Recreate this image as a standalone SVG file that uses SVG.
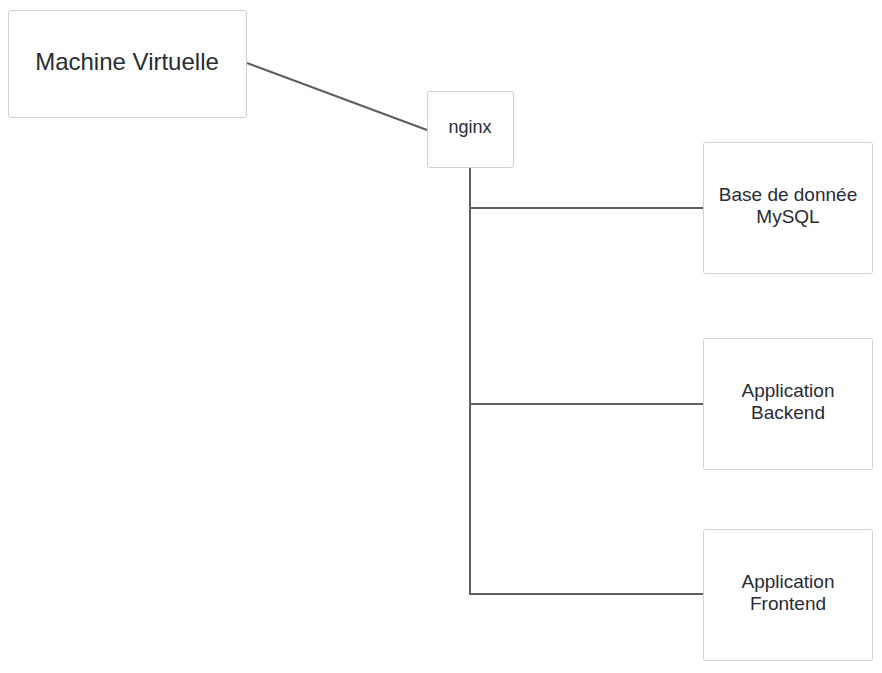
<svg xmlns="http://www.w3.org/2000/svg" width="882" height="673" viewBox="0 0 882 673">
<style>
.box{fill:#ffffff;stroke:#d0d0d0;stroke-width:1}
.t{font-family:"Liberation Sans",Arial,sans-serif;fill:#282c33;text-anchor:middle}
.c{stroke:#5e5e5e;stroke-width:2;fill:none}
</style>
<rect width="882" height="673" fill="#ffffff"/>
<g id="connectors">
<line class="c" x1="247" y1="63" x2="427" y2="130"/>
<polyline class="c" points="470,168 470,594 703,594"/>
<line class="c" x1="470" y1="208" x2="703" y2="208"/>
<line class="c" x1="470" y1="404" x2="703" y2="404"/>
</g>
<g id="machine-virtuelle">
<rect class="box" x="8.5" y="10.5" width="238" height="107" rx="2"/>
<text class="t" x="127" y="70" font-size="24">Machine Virtuelle</text>
</g>
<g id="nginx">
<rect class="box" x="427.5" y="91.5" width="86" height="76" rx="2"/>
<text class="t" x="470" y="133" font-size="18">nginx</text>
</g>
<g id="mysql">
<rect class="box" x="703.5" y="142.5" width="169" height="131" rx="2"/>
<text class="t" x="788" y="201" font-size="19">Base de donnée</text>
<text class="t" x="788" y="223" font-size="19">MySQL</text>
</g>
<g id="backend">
<rect class="box" x="703.5" y="338.5" width="169" height="131" rx="2"/>
<text class="t" x="788" y="397" font-size="19">Application</text>
<text class="t" x="788" y="419" font-size="19">Backend</text>
</g>
<g id="frontend">
<rect class="box" x="703.5" y="529.5" width="169" height="131" rx="2"/>
<text class="t" x="788" y="588" font-size="19">Application</text>
<text class="t" x="788" y="610" font-size="19">Frontend</text>
</g>
</svg>
